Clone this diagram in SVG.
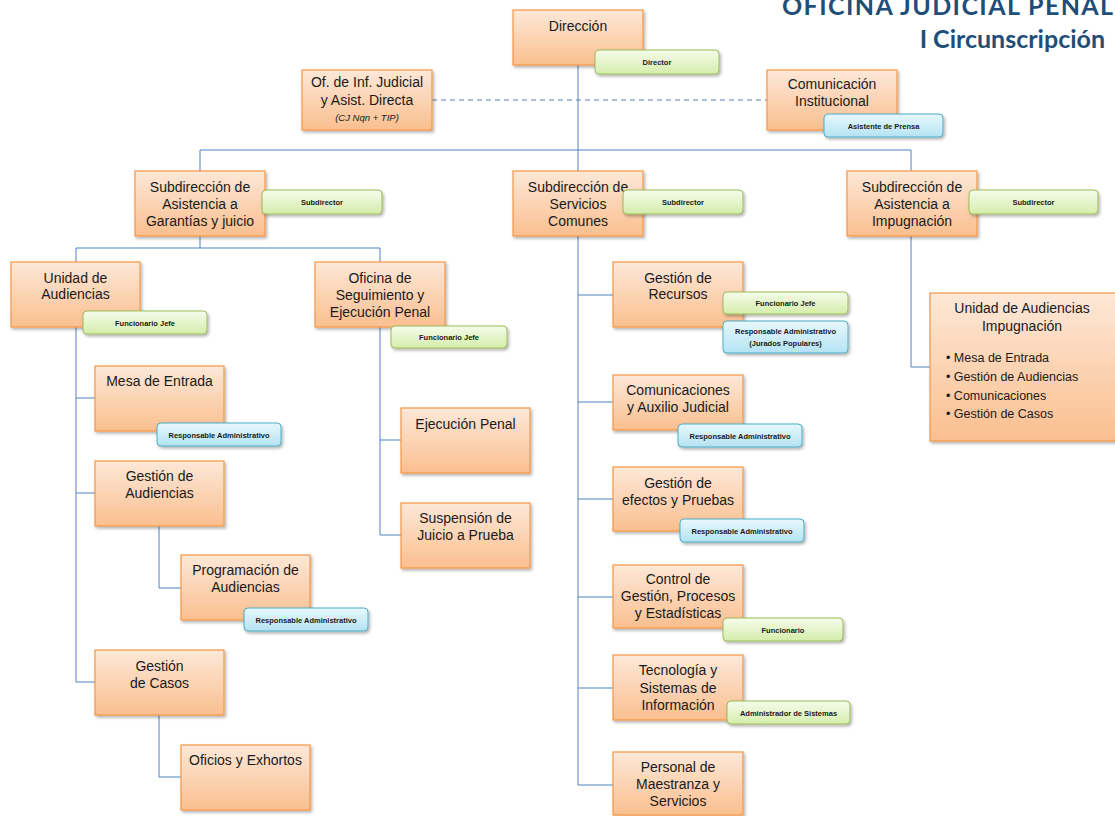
<svg xmlns="http://www.w3.org/2000/svg" width="1115" height="816" viewBox="0 0 1115 816">
  <defs>
    <linearGradient id="gOrange" x1="0" y1="0" x2="0" y2="1">
      <stop offset="0" stop-color="#FDE8D8"/>
      <stop offset="1" stop-color="#FABF8F"/>
    </linearGradient>
    <linearGradient id="gGreen" x1="0" y1="0" x2="0" y2="1">
      <stop offset="0" stop-color="#F6FCEC"/>
      <stop offset="1" stop-color="#D4EDAA"/>
    </linearGradient>
    <linearGradient id="gBlue" x1="0" y1="0" x2="0" y2="1">
      <stop offset="0" stop-color="#E8F8FD"/>
      <stop offset="1" stop-color="#B4E3F2"/>
    </linearGradient>
    <filter id="shadow" x="-10%" y="-10%" width="125%" height="130%">
      <feDropShadow dx="1.5" dy="2" stdDeviation="1.5" flood-color="#000" flood-opacity="0.3"/>
    </filter>
  </defs>
  <style>
    .box { fill: url(#gOrange); stroke: #F79646; stroke-width: 1.2; filter: url(#shadow); }
    .gb { fill: url(#gGreen); stroke: #9BBB59; stroke-width: 1; filter: url(#shadow); }
    .bb { fill: url(#gBlue); stroke: #4BACC6; stroke-width: 1; filter: url(#shadow); }
    .t { font-family: "Liberation Sans", Arial, sans-serif; font-size: 14px; fill: #1a1a1a; text-anchor: middle; }
    .ti { font-family: "Liberation Sans", Arial, sans-serif; font-size: 9.5px; font-style: italic; fill: #1a1a1a; text-anchor: middle; }
    .bt { font-family: "Liberation Sans", Arial, sans-serif; font-size: 7.5px; font-weight: bold; fill: #1a1a1a; text-anchor: middle; }
    .lt { font-family: "Liberation Sans", Arial, sans-serif; font-size: 12.5px; fill: #1a1a1a; }
    .title { font-family: Lato, "Open Sans", sans-serif; font-size: 25px; font-weight: bold; fill: #1F4E79; }
    .conn { fill: none; stroke: #4F81BD; stroke-width: 1; }
    .dash { fill: none; stroke: #4F81BD; stroke-width: 1; stroke-dasharray: 5 4; }
  </style>

  <rect width="1115" height="816" fill="#ffffff"/>

  <!-- header -->
  <g id="title">
    <text class="title" x="782" y="15" letter-spacing="1.4">OFICINA JUDICIAL PENAL</text>
    <text class="title" x="1105" y="48" text-anchor="end">I Circunscripción</text>
  </g>

  <!-- connectors -->
  <g id="connectors">
    <path class="dash" d="M432 100 H767"/>
    <path class="conn" d="M578 65 V785"/>
    <path class="conn" d="M200 171 V150 H911 V171"/>
    <path class="conn" d="M200 236 V248 M76 262 V248 H380 V262"/>
    <path class="conn" d="M76 327 V682 H95 M76 398 H95 M76 493 H95"/>
    <path class="conn" d="M159 526 V588 H181"/>
    <path class="conn" d="M159 715 V777 H181"/>
    <path class="conn" d="M380 327 V535 H401 M380 440 H401"/>
    <path class="conn" d="M578 295 H613 M578 402 H613 M578 499 H613 M578 597 H613 M578 688 H613 M578 785 H613"/>
    <path class="conn" d="M911 236 V367 H930"/>
  </g>

  <!-- Dirección -->
  <g id="direccion">
    <rect class="box" x="513" y="10" width="130" height="55"/>
    <text class="t" x="578" y="31">Dirección</text>
    <rect class="gb" x="595" y="50" width="124" height="24" rx="4"/>
    <text class="bt" x="657" y="65">Director</text>
  </g>

  <g id="of-inf-judicial">
    <rect class="box" x="302" y="70" width="130" height="60"/>
    <text class="t" x="367" y="87">Of. de Inf. Judicial</text>
    <text class="t" x="367" y="105">y Asist. Directa</text>
    <text class="ti" x="367" y="121">(CJ Nqn + TIP)</text>
  </g>

  <g id="comunicacion-institucional">
    <rect class="box" x="767" y="70" width="130" height="60"/>
    <text class="t" x="832" y="89">Comunicación</text>
    <text class="t" x="832" y="106">Institucional</text>
    <rect class="bb" x="824" y="114" width="119" height="23" rx="4"/>
    <text class="bt" x="883.5" y="128.5">Asistente de Prensa</text>
  </g>

  <!-- Subdirecciones -->
  <g id="sub-garantias">
    <rect class="box" x="135" y="171" width="130" height="65"/>
    <text class="t" x="200" y="192">Subdirección de</text>
    <text class="t" x="200" y="209">Asistencia a</text>
    <text class="t" x="200" y="226">Garantías y juicio</text>
    <rect class="gb" x="262" y="190" width="120" height="24" rx="4"/>
    <text class="bt" x="322" y="205">Subdirector</text>
  </g>

  <g id="sub-servicios">
    <rect class="box" x="513" y="171" width="130" height="65"/>
    <text class="t" x="578" y="192">Subdirección de</text>
    <text class="t" x="578" y="209">Servicios</text>
    <text class="t" x="578" y="226">Comunes</text>
    <rect class="gb" x="623" y="190" width="120" height="24" rx="4"/>
    <text class="bt" x="683" y="205">Subdirector</text>
  </g>

  <g id="sub-impugnacion">
    <rect class="box" x="847" y="171" width="130" height="65"/>
    <text class="t" x="912" y="192">Subdirección de</text>
    <text class="t" x="912" y="209">Asistencia a</text>
    <text class="t" x="912" y="226">Impugnación</text>
    <rect class="gb" x="969" y="190" width="129" height="24" rx="4"/>
    <text class="bt" x="1033.5" y="205">Subdirector</text>
  </g>

  <!-- Garantías y juicio branch -->
  <g id="unidad-audiencias">
    <rect class="box" x="11" y="262" width="129" height="65"/>
    <text class="t" x="75.5" y="283">Unidad de</text>
    <text class="t" x="75.5" y="299">Audiencias</text>
    <rect class="gb" x="83" y="311" width="124" height="23" rx="4"/>
    <text class="bt" x="145" y="325.5">Funcionario Jefe</text>
  </g>

  <g id="oficina-seguimiento">
    <rect class="box" x="315" y="262" width="130" height="65"/>
    <text class="t" x="380" y="283">Oficina de</text>
    <text class="t" x="380" y="300">Seguimiento y</text>
    <text class="t" x="380" y="317">Ejecución Penal</text>
    <rect class="gb" x="391" y="326" width="116" height="22" rx="4"/>
    <text class="bt" x="449" y="340">Funcionario Jefe</text>
  </g>

  <g id="mesa-entrada">
    <rect class="box" x="95" y="366" width="129" height="65"/>
    <text class="t" x="159.5" y="386">Mesa de Entrada</text>
    <rect class="bb" x="157" y="423" width="124" height="23" rx="4"/>
    <text class="bt" x="219" y="437.5">Responsable Administrativo</text>
  </g>

  <g id="gestion-audiencias">
    <rect class="box" x="95" y="461" width="129" height="65"/>
    <text class="t" x="159.5" y="481">Gestión de</text>
    <text class="t" x="159.5" y="498">Audiencias</text>
  </g>

  <g id="programacion-audiencias">
    <rect class="box" x="181" y="555" width="129" height="65"/>
    <text class="t" x="245.5" y="575">Programación de</text>
    <text class="t" x="245.5" y="592">Audiencias</text>
    <rect class="bb" x="244" y="608" width="124" height="23" rx="4"/>
    <text class="bt" x="306" y="622.5">Responsable Administrativo</text>
  </g>

  <g id="gestion-casos">
    <rect class="box" x="95" y="650" width="129" height="65"/>
    <text class="t" x="159.5" y="671">Gestión</text>
    <text class="t" x="159.5" y="688">de Casos</text>
  </g>

  <g id="oficios-exhortos">
    <rect class="box" x="181" y="745" width="129" height="65"/>
    <text class="t" x="245.5" y="765">Oficios y Exhortos</text>
  </g>

  <g id="ejecucion-penal">
    <rect class="box" x="401" y="408" width="129" height="65"/>
    <text class="t" x="465.5" y="429">Ejecución Penal</text>
  </g>

  <g id="suspension-juicio">
    <rect class="box" x="401" y="503" width="129" height="65"/>
    <text class="t" x="465.5" y="523">Suspensión de</text>
    <text class="t" x="465.5" y="540">Juicio a Prueba</text>
  </g>

  <!-- Servicios Comunes branch -->
  <g id="gestion-recursos">
    <rect class="box" x="613" y="262" width="130" height="65"/>
    <text class="t" x="678" y="283">Gestión de</text>
    <text class="t" x="678" y="299">Recursos</text>
    <rect class="gb" x="723" y="292" width="125" height="22" rx="4"/>
    <text class="bt" x="785.5" y="306">Funcionario Jefe</text>
    <rect class="bb" x="723" y="321" width="125" height="32" rx="4"/>
    <text class="bt" x="785.5" y="334">Responsable Administrativo</text>
    <text class="bt" x="785.5" y="346">(Jurados Populares)</text>
  </g>

  <g id="comunicaciones-auxilio">
    <rect class="box" x="613" y="375" width="130" height="55"/>
    <text class="t" x="678" y="395">Comunicaciones</text>
    <text class="t" x="678" y="412">y Auxilio Judicial</text>
    <rect class="bb" x="678" y="424" width="124" height="23" rx="4"/>
    <text class="bt" x="740" y="438.5">Responsable Administrativo</text>
  </g>

  <g id="gestion-efectos">
    <rect class="box" x="613" y="467" width="130" height="64"/>
    <text class="t" x="678" y="488">Gestión de</text>
    <text class="t" x="678" y="505">efectos y Pruebas</text>
    <rect class="bb" x="680" y="519" width="124" height="23" rx="4"/>
    <text class="bt" x="742" y="533.5">Responsable Administrativo</text>
  </g>

  <g id="control-gestion">
    <rect class="box" x="613" y="565" width="130" height="63"/>
    <text class="t" x="678" y="584">Control de</text>
    <text class="t" x="678" y="601">Gestión, Procesos</text>
    <text class="t" x="678" y="618">y Estadísticas</text>
    <rect class="gb" x="723" y="618" width="120" height="23" rx="4"/>
    <text class="bt" x="783" y="632.5">Funcionario</text>
  </g>

  <g id="tecnologia">
    <rect class="box" x="613" y="655" width="130" height="65"/>
    <text class="t" x="678" y="675">Tecnología y</text>
    <text class="t" x="678" y="693">Sistemas de</text>
    <text class="t" x="678" y="710">Información</text>
    <rect class="gb" x="727" y="701" width="123" height="23" rx="4"/>
    <text class="bt" x="788.5" y="715.5">Administrador de Sistemas</text>
  </g>

  <g id="personal-maestranza">
    <rect class="box" x="613" y="752" width="130" height="63"/>
    <text class="t" x="678" y="772">Personal de</text>
    <text class="t" x="678" y="789">Maestranza y</text>
    <text class="t" x="678" y="806">Servicios</text>
  </g>

  <!-- Impugnación branch -->
  <g id="unidad-audiencias-impugnacion">
    <rect class="box" x="930" y="293" width="190" height="148"/>
    <text class="t" x="1022" y="313">Unidad de Audiencias</text>
    <text class="t" x="1022" y="331">Impugnación</text>
    <text class="lt" x="946" y="362">•  Mesa de Entrada</text>
    <text class="lt" x="946" y="381">•  Gestión de Audiencias</text>
    <text class="lt" x="946" y="400">•  Comunicaciones</text>
    <text class="lt" x="946" y="418">•  Gestión de Casos</text>
  </g>
</svg>
